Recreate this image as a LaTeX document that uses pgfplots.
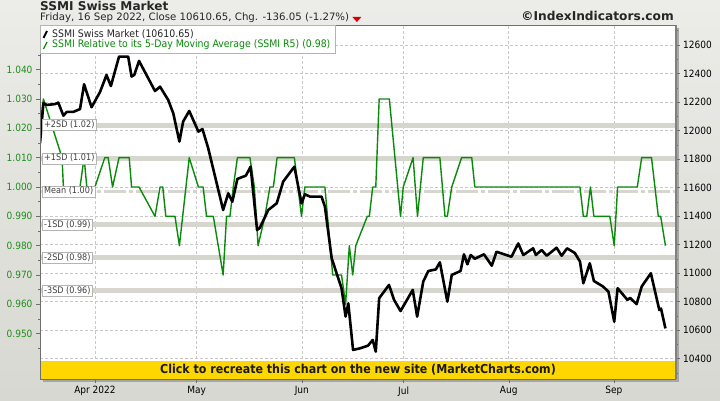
\documentclass[border=0pt]{standalone}
\usepackage{pgfplots}
\pgfplotsset{compat=1.18}
\usepackage{pgfplotstable}
\usepackage{fontspec}
\setmainfont{DejaVu Sans}
\newfontfamily\cond{DejaVu Sans Condensed}

\definecolor{bgtop}{HTML}{ECECE8}
\definecolor{bgbot}{HTML}{D8D8D2}
\definecolor{bandgray}{HTML}{D6D6CE}
\definecolor{gridgray}{HTML}{C8C8C8}
\definecolor{sgreen}{HTML}{0A8A0A}
\definecolor{lgreen}{HTML}{1E8C1E}
\definecolor{goldbar}{HTML}{FFD700}
\definecolor{framegray}{HTML}{6E6E6E}
\definecolor{shadowgray}{HTML}{A6A6A2}
\definecolor{boxborder}{HTML}{B4B4B0}
\definecolor{boxtext}{HTML}{404040}

\pgfplotstableread{
day close
74.8 11910
75.8 12191
76.8 12179
79.2 12185
80.2 12195
81.7 12104
82.7 12130
84.6 12130
86.6 12150
87.8 12324
90.0 12163
92.5 12270
94.4 12389
95.7 12312
98.1 12518
100.8 12518
101.8 12378
102.6 12390
104.0 12488
108.7 12277
110.2 12307
112.6 12214
114.1 12120
115.9 11922
117.0 12062
118.8 12137
121.5 11992
122.7 12010
124.4 11875
128.8 11442
130.3 11559
131.5 11500
133.0 11660
135.5 11683
136.9 11746
138.8 11302
139.6 11316
142.1 11442
144.6 11489
146.5 11641
149.8 11746
151.9 11489
152.9 11552
154.4 11536
157.8 11536
158.8 11466
160.8 11103
163.7 10893
164.9 10694
165.7 10787
167.1 10460
169.1 10471
171.5 10490
172.9 10530
173.8 10448
174.8 10823
177.7 10916
179.2 10811
181.1 10733
184.7 10881
186.0 10694
187.8 10940
189.3 11014
191.5 11025
192.7 11075
194.9 10799
196.2 10986
198.8 11014
199.8 11131
200.8 11061
201.8 11126
203.0 11100
205.7 11131
208.0 11051
209.4 11149
213.8 11114
215.8 11207
217.3 11126
220.2 11173
221.0 11126
222.7 11161
224.2 11121
227.1 11177
228.6 11121
230.2 11173
232.5 11140
234.0 11080
235.0 10928
236.9 11068
238.1 10944
240.8 10905
242.4 10869
244.1 10658
245.1 10893
248.0 10811
248.8 10825
250.7 10781
252.2 10905
254.9 10998
257.4 10740
257.9 10750
259.2 10611
}\ssmi

\pgfplotstableread{
day ratio
74.8 1.02
75.8 1.03
81.3 1.01
81.7 1.00
86.6 1.00
87.8 1.01
88.6 1.00
91.0 1.00
93.9 1.01
94.9 1.01
96.2 1.00
98.1 1.01
101.1 1.01
101.8 1.00
104.0 1.00
108.7 0.99
110.2 1.00
111.0 1.00
111.9 0.99
114.6 0.99
115.9 0.98
118.8 1.01
121.5 1.00
122.9 1.00
123.9 0.99
125.9 0.99
128.8 0.97
129.8 0.99
130.8 0.99
131.8 1.00
133.0 1.01
136.7 1.01
138.0 1.00
139.1 0.98
141.1 0.99
142.6 1.00
143.6 1.00
144.7 1.01
149.8 1.01
151.9 0.99
152.9 1.00
158.8 1.00
161.1 0.97
163.7 0.97
164.9 0.96
166.0 0.98
167.0 0.97
167.9 0.98
171.3 0.99
171.9 0.99
172.9 1.00
173.8 1.00
174.8 1.03
177.8 1.03
181.1 0.99
181.9 1.00
184.8 1.01
186.1 0.99
187.8 1.01
192.7 1.01
194.2 0.99
194.9 0.99
196.2 1.00
199.1 1.01
202.1 1.01
203.0 1.00
234.0 1.00
235.0 0.99
236.0 0.99
237.1 1.00
238.1 0.99
242.8 0.99
244.1 0.98
245.1 1.00
250.9 1.00
252.2 1.01
255.1 1.01
257.1 0.99
257.8 0.99
259.2 0.98
}\rfive

\pgfplotsset{
  base/.style={
    at={(40pt,21pt)}, anchor=south west, scale only axis,
    width=635.6pt, height=354pt, xmin=74.8, xmax=262.2,
    xtick={91,121,152,182,213,244},
    xticklabels={Apr 2022,May,Jun,Jul,Aug,Sep},
    tick align=outside, major tick length=4pt, minor tick length=2pt,
    every tick/.style={framegray},
    axis line style={framegray},
    ticklabel style={font=\cond\fontsize{10}{12}\selectfont},
    /pgf/number format/assume math mode=true,
  },
}

\begin{document}
\begin{tikzpicture}[x=1pt,y=1pt]
\shade[top color=bgtop, bottom color=bgbot] (0,0) rectangle (720,400);
\useasboundingbox (0,0) rectangle (720,400);
\fill[shadowgray] (43,18) rectangle (678.6,372);
\fill[white] (40,21) rectangle (675.6,375);

% grid, right ticks, x ticks
\begin{axis}[base, ymin=10256, ymax=12740,
  axis x line*=bottom, axis y line*=right,
  scaled y ticks=false,
  ytick={10400,10600,10800,11000,11200,11400,11600,11800,12000,12200,12400,12600},
  minor ytick={10300,10500,10700,10900,11100,11300,11500,11700,11900,12100,12300,12500,12700},
  yticklabel style={text=black, /pgf/number format/fixed, /pgf/number format/set thousands separator={}},
  xticklabel style={text=black},
  ymajorgrids, xmajorgrids,
  major grid style={gridgray, dash pattern=on 3pt off 2pt, line width=0.6pt},
]
\addplot[draw=none] coordinates {(100,11000)};
\end{axis}

% left scale: bands and ratio
\begin{axis}[base, ymin=0.93454, ymax=1.05523,
  axis x line=none, axis y line*=left,
  ytick={0.95,0.96,0.97,0.98,0.99,1.00,1.01,1.02,1.03,1.04},
  minor ytick={0.945,0.955,0.965,0.975,0.985,0.995,1.005,1.015,1.025,1.035,1.045},
  yticklabel style={text=lgreen, /pgf/number format/fixed, /pgf/number format/fixed zerofill, /pgf/number format/precision=3},
]
\draw[bandgray, line width=5pt] (axis cs:74.8,1.0211) -- (axis cs:262.2,1.0211);
\draw[bandgray, line width=5pt] (axis cs:74.8,1.0098) -- (axis cs:262.2,1.0098);
\draw[bandgray, line width=3pt, dash pattern=on 22pt off 3pt on 4pt off 3pt] (axis cs:74.8,0.9985) -- (axis cs:262.2,0.9985);
\draw[bandgray, line width=5pt] (axis cs:74.8,0.9872) -- (axis cs:262.2,0.9872);
\draw[bandgray, line width=5pt] (axis cs:74.8,0.9759) -- (axis cs:262.2,0.9759);
\draw[bandgray, line width=5pt] (axis cs:74.8,0.9646) -- (axis cs:262.2,0.9646);
\addplot[sgreen, line width=1.4pt, line join=round] table[x=day, y=ratio] {\rfive};
\end{axis}

% right scale: index
\begin{axis}[base, ymin=10256, ymax=12740, hide axis]
\addplot[black, line width=2.6pt, line join=round] table[x=day, y=close] {\ssmi};
\end{axis}

% band labels
\begin{scope}[every node/.style={anchor=west, draw=boxborder, fill=white, text=boxtext,
    font=\cond\fontsize{9}{10}\selectfont, inner xsep=2pt, inner ysep=1pt,
    text height=7pt, text depth=2pt}]
\node at (42,274.9) {+2SD (1.02)};
\node at (42,241.7) {+1SD (1.01)};
\node at (42,208.6) {Mean (1.00)};
\node at (42,175.5) {-1SD (0.99)};
\node at (42,142.3) {-2SD (0.98)};
\node at (42,109.2) {-3SD (0.96)};
\end{scope}

% bottom banner
\fill[goldbar] (40,21) rectangle (675.6,39);
\node[font=\cond\bfseries\fontsize{12.3}{14}\selectfont, text=black!90] at (358,30) {Click to recreate this chart on the new site (MarketCharts.com)};

% frame
\draw[framegray, line width=0.8pt] (40,21) rectangle (675.6,375);
\draw[gray, line width=1.6pt] (676,21) -- (676,375);

% legend
\draw[boxborder, fill=white] (40,347) rectangle (335,375);
\draw[black, line width=2pt] (43.5,362) -- (47,369);
\draw[sgreen, line width=1.2pt] (43.5,351) -- (47,358);
\node[anchor=west, inner sep=0pt, font=\cond\fontsize{10.4}{12}\selectfont, text=black!85] at (52,366) {SSMI Swiss Market (10610.65)};
\node[anchor=west, inner sep=0pt, font=\cond\fontsize{10.4}{12}\selectfont, text=sgreen] at (52,355) {SSMI Relative to its 5-Day Moving Average (SSMI R5) (0.98)};

% titles
\node[anchor=base west, inner sep=0pt, font=\bfseries\fontsize{12.1}{14}\selectfont, text=black!85] at (40,389.5) {SSMI Swiss Market};
\node (sub) [anchor=base west, inner sep=0pt, font=\fontsize{10.2}{12}\selectfont, text=black!85] at (40,379) {Friday, 16 Sep 2022, Close 10610.65, Chg. -136.05 (-1.27\%)};
\fill[red!85!black] (sub.base east) ++(3,4) -- ++(9,0) -- ++(-4.5,-5) -- cycle;
\node[anchor=base east, inner sep=0pt, font=\bfseries\fontsize{12.2}{14}\selectfont, text=black!85] at (674,379) {©IndexIndicators.com};
\end{tikzpicture}
\end{document}
